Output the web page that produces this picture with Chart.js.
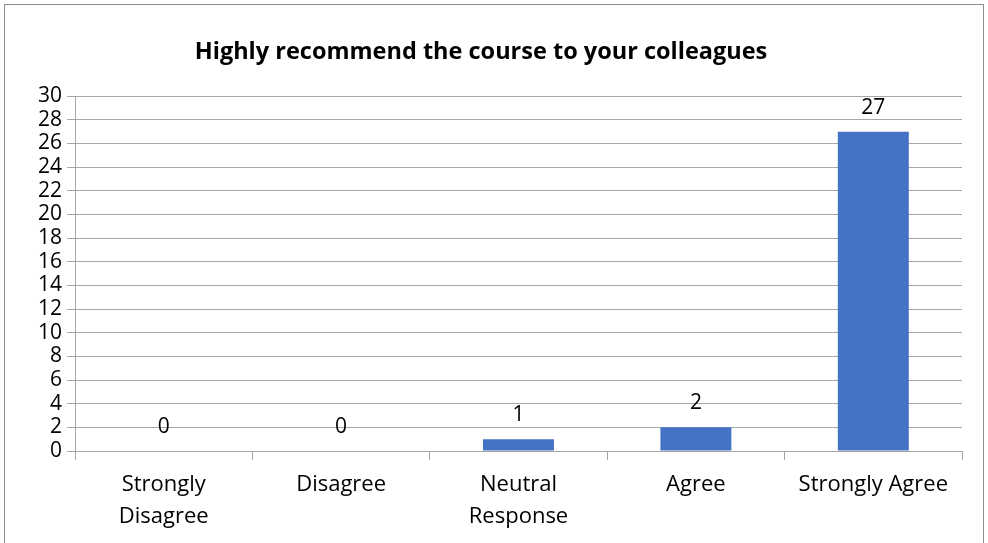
<!DOCTYPE html>
<html>
<head>
<meta charset="utf-8">
<script src="https://cdn.jsdelivr.net/npm/chart.js@4"></script>
<style>
  body { margin: 0; background: #fff; }
  #wrap { position: relative; width: 988px; height: 543px; }
  #frame { position: absolute; left: 4px; top: 4px; width: 978px; height: 560px; border: 1px solid #8c8c8c; pointer-events: none; }
  canvas { position: absolute; left: 0; top: 0; }
</style>
</head>
<body>
<div id="wrap">
  <canvas id="recommendChart" width="988" height="543"></canvas>
  <div id="frame"></div>
</div>
<script>
const categories = [['Strongly', 'Disagree'], 'Disagree', ['Neutral', 'Response'], 'Agree', 'Strongly Agree'];
const responses = [0, 0, 1, 2, 27];
const chartTitle = 'Highly recommend the course to your colleagues';

const fontFamily = "'Open Sans', 'Noto Sans', sans-serif";

// draws the value above each bar, like the office chart labels
const valueLabels = {
    id: 'valueLabels',
    afterDatasetsDraw(chart) {
        const ctx = chart.ctx;
        const meta = chart.getDatasetMeta(0);
        ctx.save();
        ctx.font = '21px ' + fontFamily;
        ctx.fillStyle = '#000';
        ctx.textAlign = 'center';
        ctx.textBaseline = 'middle';
        meta.data.forEach((bar, i) => {
            ctx.fillText(String(responses[i]), bar.x, bar.y - 24);
        });
        ctx.restore();
    }
};

const ctx1 = document.getElementById('recommendChart').getContext('2d');
const recommendChart = new Chart(ctx1, {
    type: 'bar',
    data: {
        labels: categories,
        datasets: [{
            label: 'Responses',
            data: responses,
            backgroundColor: '#4472c4',
            barPercentage: 0.4,
            categoryPercentage: 1
        }]
    },
    options: {
        responsive: false,
        animation: false,
        layout: { padding: { left: 0, right: 26, top: 0, bottom: 0 } },
        plugins: {
            legend: { display: false },
            tooltip: { enabled: false },
            title: {
                display: true,
                text: chartTitle,
                color: '#000',
                font: { family: fontFamily, size: 23.5, weight: 'bold' },
                padding: { top: 38, bottom: 30 }
            }
        },
        scales: {
            x: {
                offset: true,
                afterFit(scale) { scale.height = 92; },
                grid: { offset: true, drawOnChartArea: false, drawTicks: true, tickLength: 9, color: '#a6a6a6' },
                border: { color: '#a6a6a6' },
                ticks: { color: '#000', font: { family: fontFamily, size: 22, lineHeight: 1.45 }, padding: 9, maxRotation: 0 }
            },
            y: {
                min: 0,
                max: 30,
                afterFit(scale) { scale.width = 75; },
                grid: { color: '#a6a6a6', tickLength: 8 },
                border: { color: '#a6a6a6' },
                ticks: { stepSize: 2, autoSkip: false, color: '#000', font: { family: fontFamily, size: 21 }, padding: 5 }
            }
        }
    },
    plugins: [valueLabels]
});
</script>
</body>
</html>
